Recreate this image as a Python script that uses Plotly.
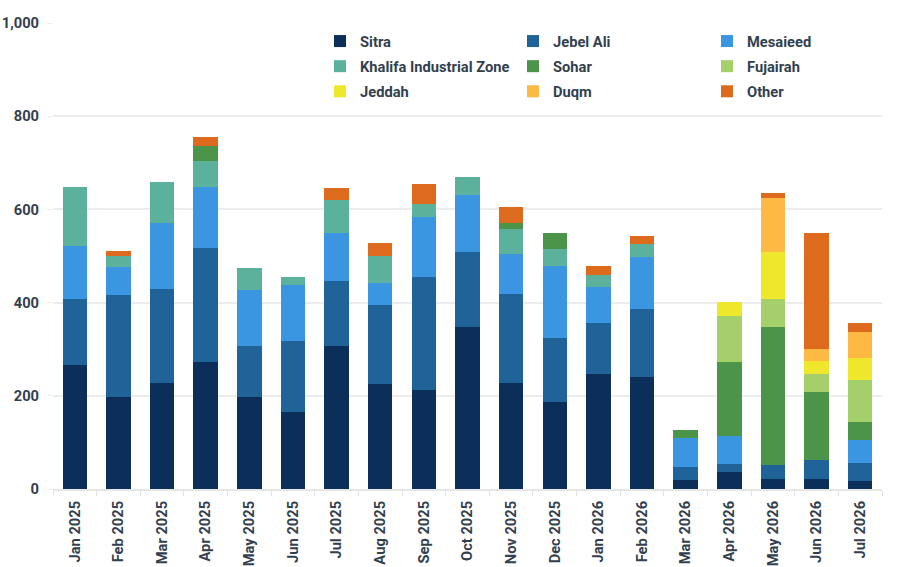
import plotly.graph_objects as go

months = ["Jan 2025", "Feb 2025", "Mar 2025", "Apr 2025", "May 2025", "Jun 2025",
          "Jul 2025", "Aug 2025", "Sep 2025", "Oct 2025", "Nov 2025", "Dec 2025",
          "Jan 2026", "Feb 2026", "Mar 2026", "Apr 2026", "May 2026", "Jun 2026", "Jul 2026"]

sitra     = [266, 198, 227, 272, 198, 165, 307, 225, 212, 348, 227, 187, 247, 240, 19, 36, 21, 21, 17]
jebel_ali = [141, 219, 202, 245, 109, 152, 139, 169, 243, 161, 192, 137, 109, 146, 28, 18, 30, 41, 39]
mesaieed  = [115, 60, 142, 131, 120, 121, 103, 49, 128, 121, 86, 155, 77, 112, 62, 60, 0, 0, 49]
khalifa   = [126, 24, 87, 55, 47, 17, 71, 58, 29, 39, 53, 36, 26, 28, 0, 0, 0, 0, 0]
sohar     = [0, 0, 0, 33, 0, 0, 0, 0, 0, 0, 13, 34, 0, 0, 17, 159, 296, 146, 38]
fujairah  = [0, 0, 0, 0, 0, 0, 0, 0, 0, 0, 0, 0, 0, 0, 0, 98, 60, 38, 90]
jeddah    = [0, 0, 0, 0, 0, 0, 0, 0, 0, 0, 0, 0, 0, 0, 0, 30, 101, 29, 49]
duqm      = [0, 0, 0, 0, 0, 0, 0, 0, 0, 0, 0, 0, 0, 0, 0, 0, 117, 25, 54]
other     = [0, 10, 0, 19, 0, 0, 26, 26, 42, 0, 34, 0, 20, 16, 0, 0, 10, 249, 21]

series_names = ["Sitra", "Jebel Ali", "Mesaieed", "Khalifa Industrial Zone", "Sohar",
                "Fujairah", "Jeddah", "Duqm", "Other"]
series_values = [sitra, jebel_ali, mesaieed, khalifa, sohar, fujairah, jeddah, duqm, other]
series_colors = ["#0c2f5a", "#1f6398", "#3a96e0", "#5bb19c", "#4b9449",
                 "#a4cf6b", "#efe72c", "#fdb944", "#de6a1e"]

y_ticks = [0, 200, 400, 600, 800, 1000]
y_ticktext = ["0", "200", "400", "600", "800", "1,000"]

FONT = "Roboto"
FSIZE = 14.7
TEXT_COLOR = "#333f4e"

fig = go.Figure()
legend_ids = ["legend", "legend2", "legend3"]
for i, (name, vals, col) in enumerate(zip(series_names, series_values, series_colors)):
    fig.add_trace(go.Bar(
        x=months, y=vals, name=name,
        marker=dict(color=col, line=dict(width=0)),
        legend=legend_ids[i % 3],
        legendgroup=name,
    ))

legend_common = dict(
    orientation="v", traceorder="grouped", bgcolor="rgba(0,0,0,0)",
    font=dict(family=FONT, size=FSIZE, color=TEXT_COLOR, weight="bold"),
    xanchor="left", yanchor="top", y=0.9957, tracegroupgap=3,
    itemwidth=30,
)
plot_l, plot_w = 53, 829
def lx(px):
    return (px - plot_l) / plot_w

fig.update_layout(
    width=903, height=567,
    margin=dict(l=53, r=21, t=23, b=78, autoexpand=False),
    barmode="stack",
    bargap=0.44,
    plot_bgcolor="white", paper_bgcolor="white",
    font=dict(family=FONT, size=FSIZE, color=TEXT_COLOR, weight="bold"),
    showlegend=True,
    legend=dict(x=lx(320), **legend_common),
    legend2=dict(x=lx(513), **legend_common),
    legend3=dict(x=lx(707), **legend_common),
    xaxis=dict(
        type="category", categoryorder="array", categoryarray=months,
        tickangle=-90, tickson="boundaries", ticks="outside", ticklen=5,
        tickcolor="#e3e3e3", showline=True, linecolor="#e6e6e6", linewidth=2,
        showgrid=False, ticklabelstandoff=4, automargin=False,
        tickfont=dict(family=FONT, size=FSIZE, color=TEXT_COLOR, weight="bold"),
    ),
    yaxis=dict(
        range=[0, 1000], tickvals=y_ticks, ticktext=y_ticktext,
        showgrid=True, gridcolor="#ececec", gridwidth=2, zeroline=False,
        showline=False, ticks="outside", ticklen=4, tickcolor="#ececec",
        ticklabelstandoff=6, automargin=False,
        tickfont=dict(family=FONT, size=FSIZE, color=TEXT_COLOR, weight="bold"),
    ),
)

fig.write_html("out.html")
